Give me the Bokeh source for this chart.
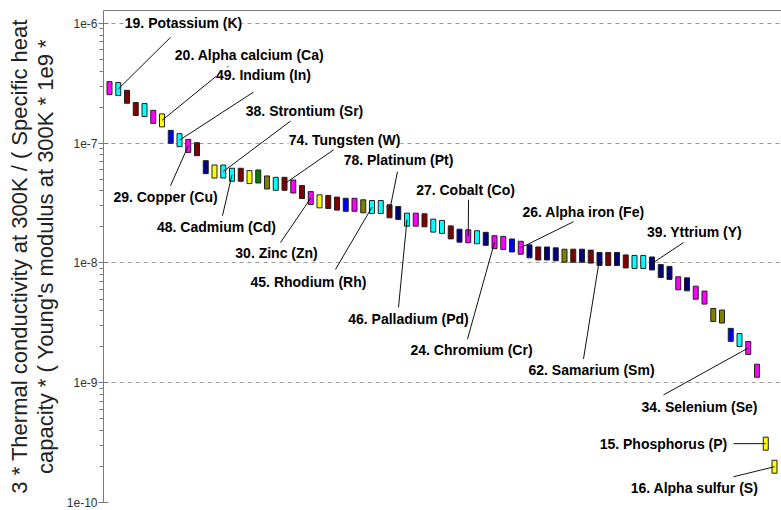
from bokeh.plotting import figure
from bokeh.models import (ColumnDataSource, LabelSet, FixedTicker, CustomJSTickFormatter,
                          Range1d, LinearAxis)
from bokeh.core.properties import value
from bokeh.embed import file_html
from bokeh.resources import INLINE

# ---------------- data ----------------
PAL = {"M": "#FF00FF", "C": "#00FFFF", "R": "#800000", "Y": "#FFFF00",
       "B": "#0000FF", "N": "#000080", "G": "#008000", "O": "#808000"}

values = [2.88e-7, 2.83e-7, 2.44e-7, 1.93e-7, 1.89e-7, 1.66e-7, 1.55e-7, 1.13e-7, 1.06e-7, 9.49e-8,
          8.91e-8, 6.31e-8, 5.80e-8, 5.80e-8, 5.45e-8, 5.45e-8, 5.21e-8, 5.27e-8, 4.70e-8, 4.58e-8,
          4.58e-8, 4.35e-8, 3.91e-8, 3.48e-8, 3.27e-8, 3.23e-8, 3.13e-8, 3.06e-8, 3.06e-8, 2.97e-8,
          2.93e-8, 2.93e-8, 2.70e-8, 2.61e-8, 2.30e-8, 2.30e-8, 2.27e-8, 2.05e-8, 2.00e-8, 1.80e-8,
          1.69e-8, 1.67e-8, 1.64e-8, 1.59e-8, 1.49e-8, 1.47e-8, 1.40e-8, 1.34e-8, 1.25e-8, 1.20e-8,
          1.20e-8, 1.18e-8, 1.15e-8, 1.15e-8, 1.15e-8, 1.13e-8, 1.08e-8, 1.08e-8, 1.08e-8, 1.03e-8,
          1.02e-8, 1.02e-8, 9.9e-9, 8.55e-9, 8.26e-9, 6.76e-9, 6.63e-9, 5.65e-9, 5.14e-9, 3.68e-9,
          3.57e-9, 2.51e-9, 2.27e-9, 1.95e-9, 1.26e-9, 3.10e-10, 1.99e-10]

color_codes = ["M", "C", "R", "R", "C", "M", "Y", "B", "C", "M",
               "R", "N", "Y", "C", "C", "R", "Y", "G", "O", "C",
               "R", "M", "R", "M", "Y", "R", "R", "B", "M", "O",
               "C", "C", "R", "N", "C", "M", "R", "C", "C", "R",
               "N", "M", "C", "N", "M", "M", "B", "M", "N", "R",
               "N", "N", "O", "R", "N", "R", "N", "R", "N", "R",
               "C", "C", "N", "N", "N", "M", "N", "M", "M", "O",
               "O", "B", "C", "M", "M", "Y", "Y"]

label_texts = ["19. Potassium (K)", "20. Alpha calcium (Ca)", "49. Indium (In)",
               "38. Strontium (Sr)", "74. Tungsten (W)", "78. Platinum (Pt)",
               "27. Cobalt (Co)", "26. Alpha  iron (Fe)", "39. Yttrium (Y)",
               "29. Copper (Cu)", "48. Cadmium (Cd)", "30. Zinc (Zn)",
               "45. Rhodium (Rh)", "46. Palladium (Pd)", "24. Chromium (Cr)",
               "62. Samarium (Sm)", "34. Selenium (Se)", "15. Phosphorus (P)",
               "16. Alpha sulfur (S)"]
label_marker = [1, 6, 8, 13, 20, 32, 41, 47, 62, 9, 14, 23, 30, 34, 44, 56, 73, 75, 76]

tick_values = [1e-10, 1e-9, 1e-8, 1e-7, 1e-6]
tick_labels = ["1e-10", "1e-9", "1e-8", "1e-7", "1e-6"]

y_title = ("3 * Thermal conductivity at 300K / ( Specific heat\n"
           "capacity * ( Young's modulus at 300K * 1e9 *")

# ---------------- layout of annotations (data coords) ----------------
label_pos_x = [8.46, 16.0, 17.6, 22.29, 26.86, 33.03, 40.69, 54.4, 66.86,
               6.4, 12.23, 19.09, 22.74, 34.17, 41.37, 55.09, 67.43, 63.31, 66.86]
label_pos_y = [1.0e-6, 5.42e-7, 3.70e-7, 1.85e-7, 1.06e-7, 7.26e-8, 4.08e-8, 2.68e-8, 1.83e-8,
               3.57e-8, 2.01e-8, 1.20e-8, 6.89e-9, 3.39e-9, 1.87e-9, 1.28e-9, 6.28e-10, 3.10e-10, 1.31e-10]
leader_x0 = [6.97, 13.6, 16.46, 20.69, 25.6, 32.91, 41.03, 53.03, 65.6,
             6.97, 12.91, 19.54, 25.83, 33.03, 40.91, 54.17, 63.31, 71.31, 71.31]
leader_y0 = [7.65e-7, 4.39e-7, 2.67e-7, 1.53e-7, 8.79e-8, 5.77e-8, 3.37e-8, 2.21e-8, 1.48e-8,
             4.41e-8, 2.48e-8, 1.48e-8, 8.83e-9, 4.26e-9, 2.31e-9, 1.58e-9, 7.91e-10, 3.10e-10, 1.64e-10]

# ---------------- figure ----------------
Y_START, Y_END = 1e-10, 1.282e-6
X_START, X_END = -0.686, 76.8
AX = "#7a7a7a"

p = figure(width=781, height=510, y_axis_type="log", output_backend="svg",
           toolbar_location=None, x_range=Range1d(X_START, X_END),
           y_range=Range1d(Y_START, Y_END),
           min_border_left=103, min_border_right=0, min_border_top=10, min_border_bottom=8)
p.outline_line_color = None
p.background_fill_color = "white"
p.border_fill_color = "white"
p.xaxis.visible = False
p.xgrid.visible = False

p.ygrid.grid_line_color = "#9a9a9a"
p.ygrid.grid_line_dash = "4 4"
p.ygrid.grid_line_width = 1

# top frame line (axis without ticks or labels)
top = LinearAxis(axis_line_color=AX, ticker=FixedTicker(ticks=[]),
                 major_tick_line_color=None, minor_tick_line_color=None,
                 major_tick_in=0, major_tick_out=0, minor_tick_in=0, minor_tick_out=0,
                 major_label_standoff=0)
p.add_layout(top, "above")

yaxis = p.yaxis[0]
yaxis.ticker = FixedTicker(ticks=tick_values,
                           minor_ticks=[k * 10.0 ** e for e in range(-10, -6 + 1) for k in range(2, 10)])
yaxis.formatter = CustomJSTickFormatter(args=dict(vals=tick_values, labs=tick_labels), code="""
let best = 0, bd = Infinity;
for (let i = 0; i < vals.length; i++) {
  const d = Math.abs(Math.log10(tick) - Math.log10(vals[i]));
  if (d < bd) { bd = d; best = i; }
}
return labs[best];
""")
yaxis.axis_line_color = AX
yaxis.major_tick_line_color = AX
yaxis.minor_tick_line_color = AX
yaxis.major_tick_in = 5
yaxis.major_tick_out = 5
yaxis.minor_tick_in = 0
yaxis.minor_tick_out = 4
yaxis.major_label_text_font = "Liberation Sans"
yaxis.major_label_text_font_size = "12px"
yaxis.major_label_text_color = "#333333"
yaxis.major_label_standoff = 1
yaxis.axis_label = y_title
yaxis.axis_label_text_font = "Liberation Sans"
yaxis.axis_label_text_font_size = "22px"
yaxis.axis_label_text_font_style = "normal"
yaxis.axis_label_text_color = "#222222"
yaxis.axis_label_standoff = 6
yaxis.axis_label_text_line_height = 1.05

idx = list(range(len(values)))
src = ColumnDataSource(dict(x=idx, y=values, c=[PAL[k] for k in color_codes]))
p.rect(x="x", y="y", width=5, height=13, width_units="screen", height_units="screen",
       fill_color="c", line_color="#202020", line_width=1, source=src)

seg_src = ColumnDataSource(dict(x0=leader_x0, y0=leader_y0,
                                x1=[idx[i] for i in label_marker],
                                y1=[values[i] for i in label_marker]))
p.segment(x0="x0", y0="y0", x1="x1", y1="y1", line_color="#111111", line_width=1, source=seg_src)

lab_src = ColumnDataSource(dict(x=label_pos_x, y=label_pos_y, t=label_texts))
p.add_layout(LabelSet(x="x", y="y", text="t", source=lab_src, text_align="center",
                      text_baseline="middle", text_font=value("Liberation Sans"),
                      text_font_size=value("14px"), text_font_style="bold", text_color="black",
                      background_fill_color="white"))

open("out.html", "w").write(file_html(p, INLINE))
